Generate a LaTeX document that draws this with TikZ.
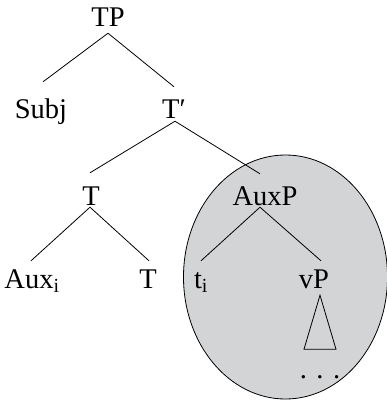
\documentclass[tikz,border=0pt]{standalone}
\usepackage{fontspec}
\setmainfont{Liberation Serif}
\usetikzlibrary{calc}
\definecolor{ellgray}{HTML}{D3D4D6}
\begin{document}
\begin{tikzpicture}[x=1pt,y=-1pt,
  lbl/.style={anchor=base,inner sep=0pt,text height=19pt,text depth=6pt,font=\fontsize{28.5}{30}\selectfont},
  edge/.style={line width=0.8pt}]
\useasboundingbox (0,0) rectangle (387,402);
\filldraw[fill=ellgray,draw=black,line width=0.8pt] (285.5,277) ellipse [x radius=102, y radius=122];
\node[lbl] (TP) at (108,26) {TP};
\node[lbl] (Subj) at (41,118) {Subj};
\node[lbl] (Tbar) at (174,118) {T′};
\node[lbl] (T) at (91,205) {T};
\node[lbl] (AuxP) at (265,205) {AuxP};
\node[lbl] (Aux) at (32,288) {Aux\textsubscript{i}};
\node[lbl] (Tlow) at (148,288) {T};
\node[lbl] (trace) at (201,288) {t\textsubscript{i}};
\node[lbl] (vP) at (314,288) {vP};
\node[lbl] (dots) at (320,378) {. . .};
\draw[edge] ($(TP.south)+(0,1)$) -- ($(Subj.north)+(2,-17)$);
\draw[edge] ($(TP.south)+(0,1)$) -- ($(Tbar.north)+(0,-12)$);
\draw[edge] ($(Tbar.south)+(1,-3)$) -- ($(T.north)+(-1,-13)$);
\draw[edge] ($(Tbar.south)+(1,-3)$) -- ($(AuxP.north)+(-5,-12)$);
\draw[edge] ($(T.south)+(-1,-4)$) -- ($(Aux.north)+(-1,-8)$);
\draw[edge] ($(T.south)+(-1,-4)$) -- ($(Tlow.north)+(1,-8)$);
\draw[edge] ($(AuxP.south)+(-5,-4)$) -- ($(trace.north)+(0,-8)$);
\draw[edge] ($(AuxP.south)+(-5,-4)$) -- ($(vP.north)+(7,-8)$);
\draw[edge,line join=miter] ($(vP.south)+(6,1)$) -- ($(vP.south)+(-10,55)$) -- ($(vP.south)+(22,55)$) -- cycle;
\end{tikzpicture}
\end{document}
